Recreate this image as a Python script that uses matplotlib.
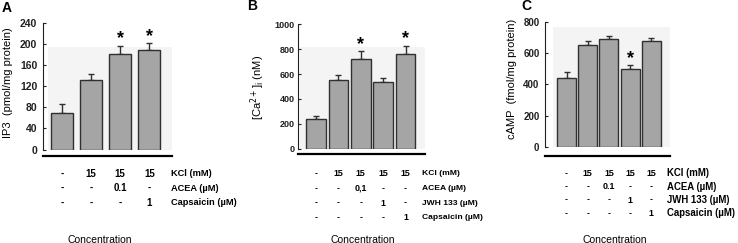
import matplotlib

matplotlib.use("Agg")
import matplotlib.pyplot as plt
from matplotlib.patches import Rectangle
from matplotlib.transforms import blended_transform_factory

plt.rcParams["font.family"] = ["Liberation Sans", "DejaVu Sans"]

W, H = 738, 243

# panel A: IP3
ip3_vals = [70, 133, 182, 189]
ip3_err = [16, 10, 15, 13]
ip3_star = [False, False, True, True]
ip3_rows = ["KCl (mM)", "ACEA (\u00b5M)", "Capsaicin (\u00b5M)"]
ip3_table = [["-", "15", "15", "15"],
             ["-", "-", "0.1", "-"],
             ["-", "-", "-", "1"]]
ip3_ticks = [0, 40, 80, 120, 160, 200, 240]

# panel B: [Ca2+]i
ca_vals = [236, 552, 718, 536, 764]
ca_err = [29, 43, 65, 32, 64]
ca_star = [False, False, True, False, True]
ca_rows = ["KCl (mM)", "ACEA (\u00b5M)", "JWH 133 (\u00b5M)", "Capsaicin (\u00b5M)"]
ca_table = [["-", "15", "15", "15", "15"],
            ["-", "-", "0,1", "-", "-"],
            ["-", "-", "-", "1", "-"],
            ["-", "-", "-", "-", "1"]]
ca_ticks = [0, 200, 400, 600, 800, 1000]

# panel C: cAMP
camp_vals = [444, 654, 692, 499, 680]
camp_err = [34, 26, 18, 24, 21]
camp_star = [False, False, False, True, False]
camp_rows = ca_rows
camp_table = [["-", "15", "15", "15", "15"],
              ["-", "-", "0.1", "-", "-"],
              ["-", "-", "-", "1", "-"],
              ["-", "-", "-", "-", "1"]]
camp_ticks = [0, 200, 400, 600, 800]

BAR = "#a5a5a5"
EDGE = "#303030"
BG = "#f4f4f4"


def fx(x):
    return x / W


def fy(y):
    return 1 - y / H


def panel(fig, spec):
    # spec holds the pixel geometry of one panel
    x0, x1 = spec["axis_x"], spec["right_x"]
    y0, ytop = spec["zero_y"], spec["top_y"]
    ax = fig.add_axes([fx(x0), fy(y0), fx(x1 - x0), (y0 - ytop) / H])
    c0, step = spec["bar0_x"], spec["step"]
    ax.set_xlim((x0 - c0) / step, (x1 - c0) / step)
    ax.set_ylim(0, spec["ticks"][-1])
    ax.set_facecolor("none")

    bg_left = (spec["bg_x"] - c0) / step
    ax.add_patch(Rectangle((bg_left, 0), (x1 - c0) / step - bg_left, spec["bg_top"],
                           facecolor=BG, edgecolor="none", zorder=0))

    vals, err = spec["vals"], spec["err"]
    xs = list(range(len(vals)))
    ax.bar(xs, vals, width=spec["width"], color=BAR, edgecolor=EDGE, linewidth=1.0, zorder=2)
    ax.errorbar(xs, vals, yerr=[[0] * len(vals), err], fmt="none", ecolor=EDGE,
                elinewidth=1.0, capsize=2.5, capthick=1.0, zorder=1)
    for x, v, e, s in zip(xs, vals, err, spec["star"]):
        if s:
            ax.annotate("*", (x, v + e), xytext=(0, -1), textcoords="offset points",
                        ha="center", va="bottom", fontsize=13, fontweight="bold")

    for side in ("top", "right"):
        ax.spines[side].set_visible(False)
    ax.spines["left"].set_linewidth(0.8)
    ax.spines["left"].set_color("#202020")
    ax.spines["bottom"].set_position(("outward", spec["drop"]))
    ax.spines["bottom"].set_linewidth(1.6)
    ax.set_xticks([])
    ax.set_yticks(spec["ticks"])
    ax.tick_params(axis="y", direction="in", length=2.5, width=0.8, pad=spec["pad"],
                   labelsize=spec["tick_fs"], colors="#202020")
    for lab in ax.get_yticklabels():
        lab.set_fontweight("bold")

    tr = blended_transform_factory(ax.transData, fig.transFigure)
    for row_y, name, cells in zip(spec["row_y"], spec["rows"], spec["table"]):
        for x, c in zip(xs, cells):
            ax.text(x, fy(row_y), c, transform=tr, ha="center", va="center_baseline",
                    fontsize=spec["tab_fs"], fontweight="bold")
        fig.text(fx(spec["label_x"]), fy(row_y), name, ha="left", va="center_baseline",
                 fontsize=spec["row_fs"], fontweight="bold")

    fig.text(fx(spec["conc_x"]), fy(242.5), "Concentration", ha="center", va="baseline",
             fontsize=7.5)
    fig.text(fx(spec["ylab_x"]), fy(spec["ylab_y"]), spec["ylabel"], rotation=90,
             ha="center", va="center", fontsize=8)
    fig.text(fx(spec["letter"][0]), fy(spec["letter"][1]), spec["letter"][2],
             ha="center", va="center", fontsize=10, fontweight="bold")
    return ax


fig = plt.figure(figsize=(W / 100, H / 100), dpi=100)

panel(fig, dict(axis_x=42.7, right_x=171.5, zero_y=149.5, top_y=23.3,
                bar0_x=62, step=29.1, width=0.76, bg_x=48.3, bg_top=194,
                vals=ip3_vals, err=ip3_err, star=ip3_star, ticks=ip3_ticks,
                drop=4.5, tick_fs=7.5, tab_fs=7, row_fs=6.7, pad=4,
                rows=ip3_rows, table=ip3_table, row_y=[172.7, 187.3, 201.7], label_x=171,
                conc_x=100, ylabel="IP3  (pmol/mg protein)", ylab_x=8.5, ylab_y=82.5,
                letter=(7, 7.5, "A")))

panel(fig, dict(axis_x=298.3, right_x=425, zero_y=148.7, top_y=24.3,
                bar0_x=316, step=22.4, width=0.87, bg_x=300, bg_top=819,
                vals=ca_vals, err=ca_err, star=ca_star, ticks=ca_ticks,
                drop=3.5, tick_fs=6.5, tab_fs=6.4, row_fs=6.1, pad=2.5,
                rows=ca_rows, table=ca_table, row_y=[172.3, 187.3, 202, 216.7], label_x=421.7,
                conc_x=363, ylabel="[Ca$^{2+}$]$_{\\mathrm{i}}$ (nM)", ylab_x=258, ylab_y=87,
                letter=(252, 6, "B")))

panel(fig, dict(axis_x=545, right_x=670, zero_y=146.7, top_y=22.3,
                bar0_x=566.5, step=21.2, width=0.9, bg_x=553, bg_top=771,
                vals=camp_vals, err=camp_err, star=camp_star, ticks=camp_ticks,
                drop=6.5, tick_fs=7, tab_fs=6.4, row_fs=6.9, pad=4,
                rows=camp_rows, table=camp_table, row_y=[172.3, 185.5, 199, 212.3], label_x=666.7,
                conc_x=615, ylabel="cAMP  (fmol/mg protein)", ylab_x=511.7, ylab_y=79,
                letter=(526, 6, "C")))

fig.savefig("out.png", dpi=100)
